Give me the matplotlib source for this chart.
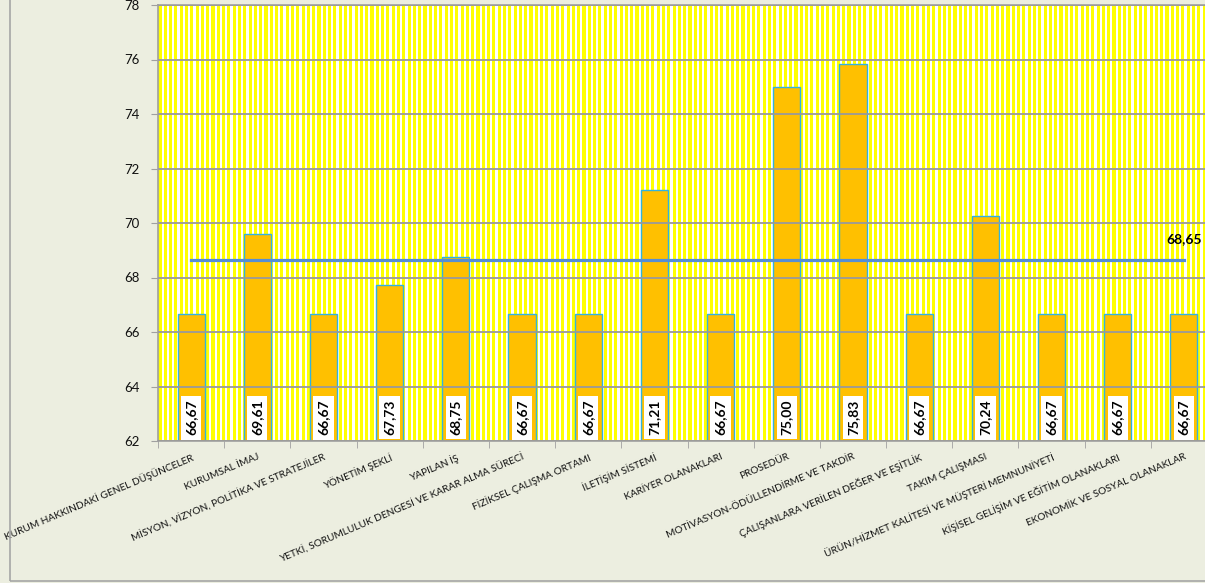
import numpy as np
import matplotlib
matplotlib.use('Agg')
import matplotlib.pyplot as plt
from matplotlib.patches import Rectangle

categories = ['KURUM HAKKINDAKİ GENEL DÜŞÜNCELER', 'KURUMSAL İMAJ',
              'MİSYON, VİZYON, POLİTİKA VE STRATEJİLER', 'YÖNETİM ŞEKLİ',
              'YAPILAN İŞ', 'YETKİ, SORUMLULUK DENGESİ VE KARAR ALMA SÜRECİ',
              'FİZİKSEL ÇALIŞMA ORTAMI', 'İLETİŞİM SİSTEMİ', 'KARİYER OLANAKLARI',
              'PROSEDÜR', 'MOTİVASYON-ÖDÜLLENDİRME VE TAKDİR',
              'ÇALIŞANLARA VERİLEN DEĞER VE EŞİTLİK', 'TAKIM ÇALIŞMASI',
              'ÜRÜN/HİZMET KALİTESİ VE MÜŞTERİ MEMNUNİYETİ',
              'KİŞİSEL GELİŞİM VE EĞİTİM OLANAKLARI', 'EKONOMİK VE SOSYAL OLANAKLAR']
scores = [66.67, 69.61, 66.67, 67.73, 68.75, 66.67, 66.67, 71.21,
          66.67, 75.00, 75.83, 66.67, 70.24, 66.67, 66.67, 66.67]
average = 68.65
y_ticks = [62, 64, 66, 68, 70, 72, 74, 76, 78]

plt.rcParams['font.family'] = ['Lato', 'DejaVu Sans']

fig = plt.figure(figsize=(12.05, 5.83), dpi=100)
fig.patch.set_facecolor('#ECEEE0')
fig.patches.append(Rectangle((10/1205, 2/583), 1.2, 1.2, transform=fig.transFigure,
                             fill=False, ec='#A6A6A6', lw=1.2, zorder=0))

ax = fig.add_axes([158/1205, 142/583, 1059/1205, 436/583])

# striped plot area background
w = 1059
cols = np.arange(w)
pattern = (cols % 5.3) < 3.1
img = np.ones((1, w, 3))
img[0, pattern] = [1.0, 1.0, 0.0]
ax.imshow(img, extent=[0, 1, 0, 1], transform=ax.transAxes, aspect='auto',
          interpolation='nearest', zorder=0)

x = np.arange(len(categories))
ax.bar(x, [s - 62 for s in scores], bottom=62, width=0.41, color='#FFC000',
       edgecolor='#31B3E0', linewidth=1.0, zorder=2)

for i in range(len(scores)):
    ax.text(i, 62.86, ('%.2f' % scores[i]).replace('.', ','), rotation=90,
            ha='center', va='center', fontsize=10, fontweight='bold', color='black',
            bbox=dict(boxstyle='square,pad=0.3', fc='white', ec='none'), zorder=3)

ax.plot([x[0], x[-1]], [average, average], color='#558ED5', lw=2.3, zorder=4)
ax.text(x[-1], average + 0.55, ('%.2f' % average).replace('.', ','), ha='center',
        va='bottom', fontsize=10, fontweight='bold', color='black', zorder=5)

ax.set_xlim(-0.5, len(categories) - 0.5)
ax.set_ylim(62, 78)
ax.set_yticks(y_ticks)
ax.set_yticklabels([str(t) for t in y_ticks], fontsize=9.5, color='#111111')
ax.yaxis.grid(True, color='#9A9A9A', lw=1.3, zorder=1)
ax.set_axisbelow(False)
for gl in ax.get_ygridlines():
    gl.set_zorder(1)

ax.set_xticks(x)
ax.set_xticklabels(categories, rotation=23, ha='right', va='top',
                   rotation_mode='anchor', fontsize=7.3, color='#111111')
ax.tick_params(axis='x', length=0, pad=8)
ax.set_xticks(np.arange(-0.5, len(categories), 1), minor=True)
ax.tick_params(axis='x', which='minor', length=5, color='#A0A0A0')
ax.tick_params(axis='y', length=5, color='#A0A0A0', pad=8)

for s in ['left', 'bottom', 'top']:
    ax.spines[s].set_color('#A0A0A0')
    ax.spines[s].set_linewidth(1.2)
ax.spines['right'].set_visible(False)

fig.savefig('out.png', dpi=100, facecolor=fig.get_facecolor())
